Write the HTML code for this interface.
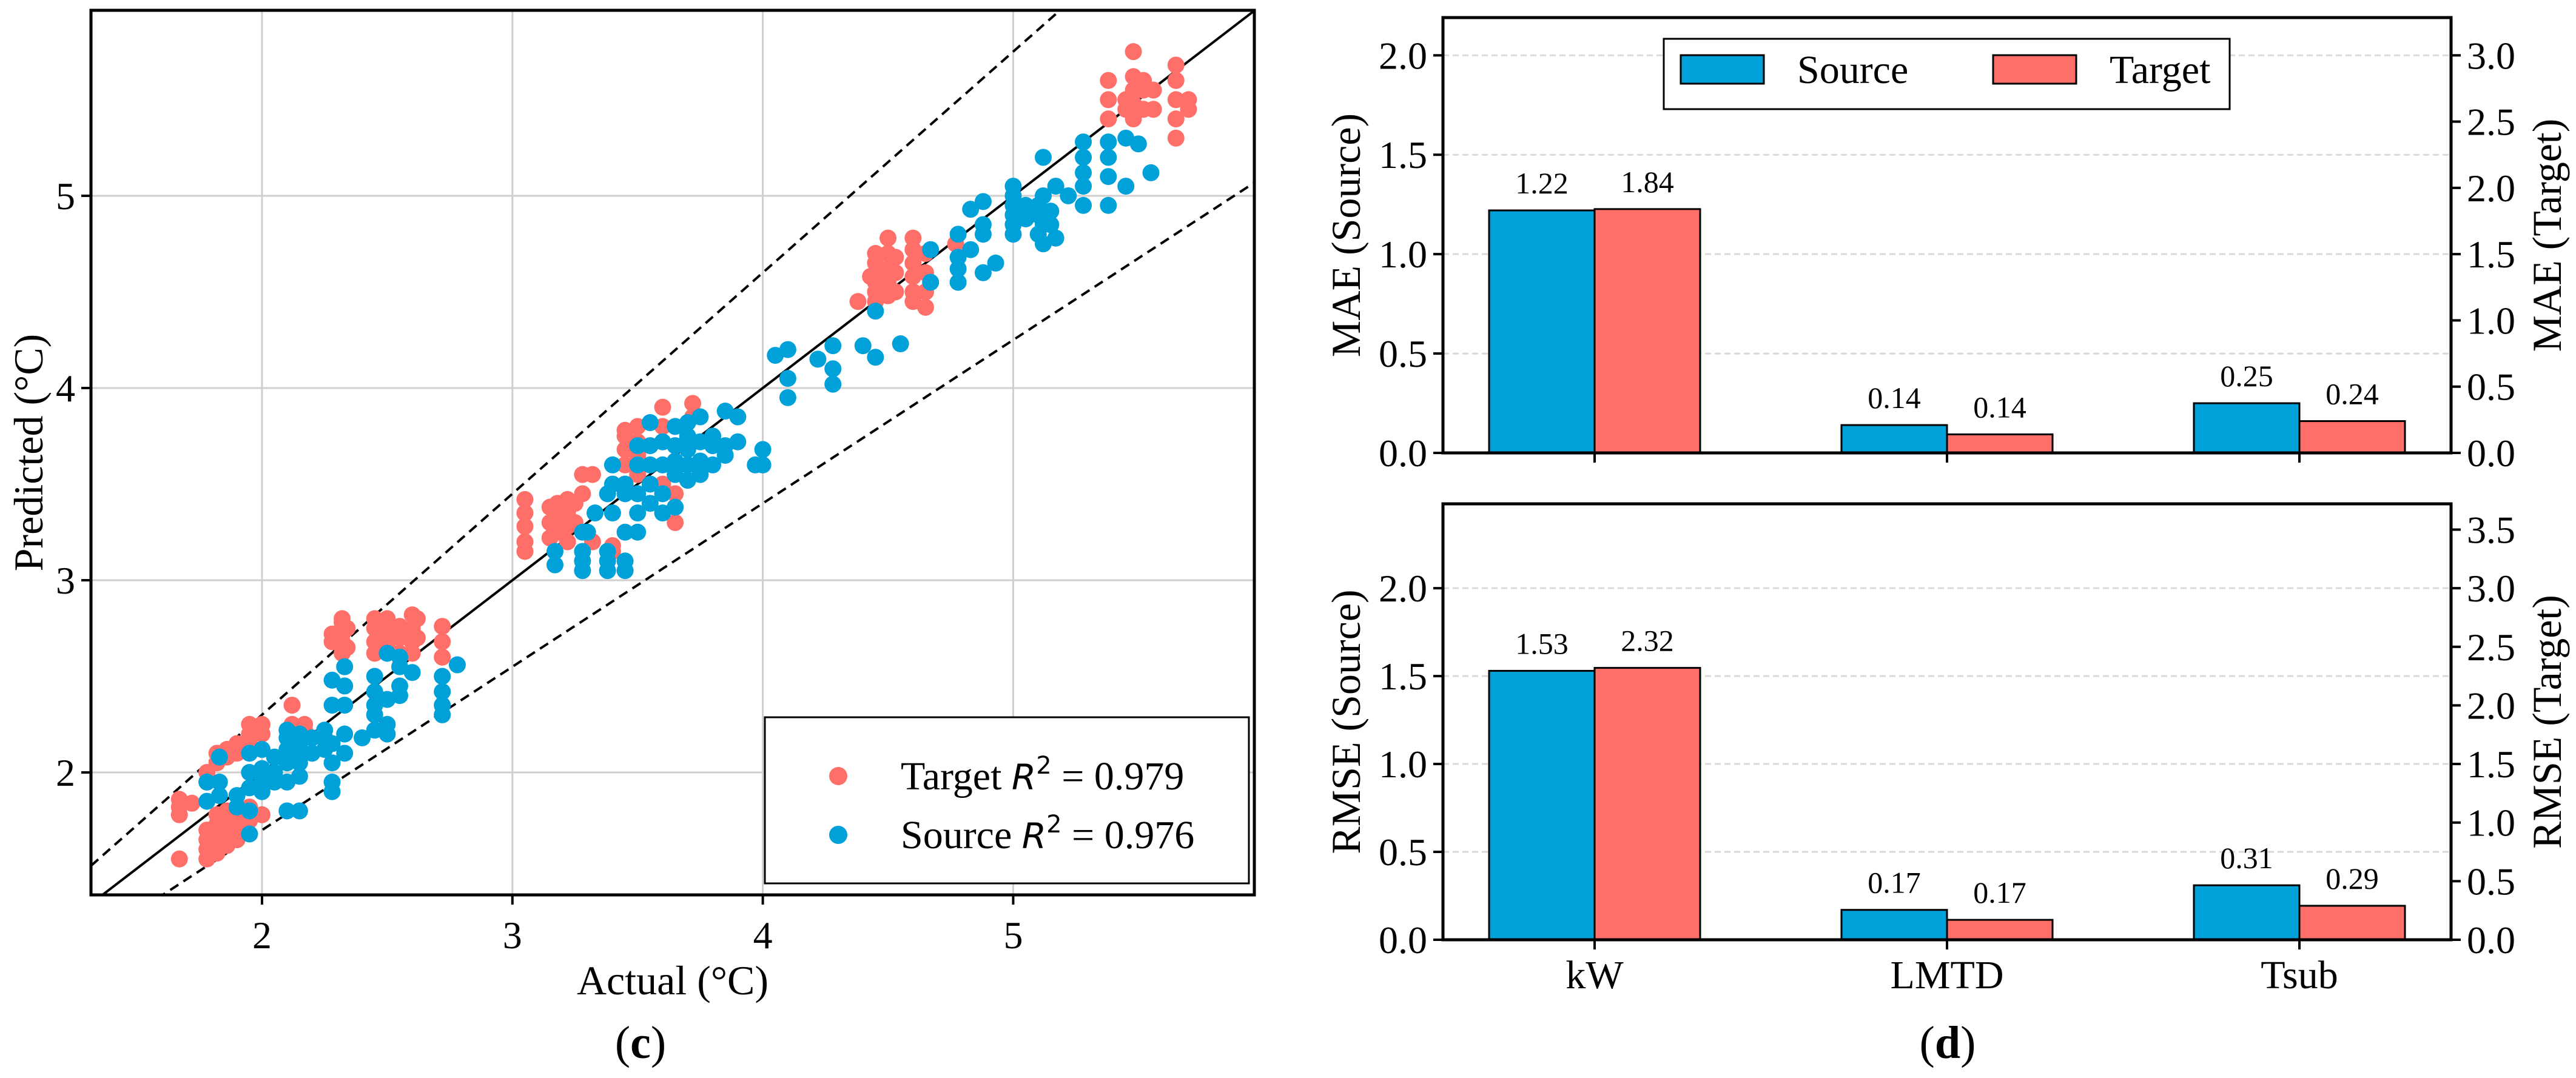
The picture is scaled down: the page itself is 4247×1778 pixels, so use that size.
<!DOCTYPE html>
<html><head><meta charset="utf-8"><style>
html,body{margin:0;padding:0;background:#fff}
svg{display:block}
text{font-family:"Liberation Serif",serif;fill:#000}
</style></head><body>
<svg id="fig" width="4247" height="1778" viewBox="0 0 4247 1778" xmlns="http://www.w3.org/2000/svg">
<rect width="4247" height="1778" fill="#fff"/>
<g id="panelC"></g>
<g id="panelD"></g>
</svg>
<script>
// ---------- Data: scatter (c) ----------
const targetX = [1.67,1.67,1.67,1.67,1.72,1.78,1.78,1.78,1.78,1.78,1.78,1.82,1.82,1.82,1.82,1.82,1.82,1.82,1.86,1.86,1.86,1.86,1.86,1.86,1.9,1.9,1.9,1.9,1.9,1.95,1.95,1.95,1.95,1.95,1.95,2.0,2.0,2.0,2.12,2.12,2.12,2.17,2.17,2.28,2.28,2.32,2.32,2.32,2.32,2.32,2.34,2.34,2.45,2.45,2.45,2.45,2.5,2.5,2.5,2.5,2.55,2.55,2.55,2.6,2.6,2.6,2.6,2.62,2.62,2.72,2.72,2.72,3.05,3.05,3.05,3.05,3.05,3.15,3.15,3.15,3.18,3.18,3.18,3.22,3.22,3.22,3.22,3.25,3.25,3.28,3.28,3.32,3.32,3.4,3.4,3.45,3.45,3.45,3.45,3.45,3.5,3.5,3.5,3.5,3.6,3.6,3.6,3.6,3.65,3.65,3.72,3.72,4.43,4.38,4.45,4.45,4.45,4.45,4.45,4.45,4.5,4.5,4.5,4.5,4.5,4.53,4.53,4.53,4.6,4.6,4.6,4.6,4.6,4.6,4.65,4.65,4.65,4.65,4.77,5.38,5.38,5.38,5.45,5.45,5.48,5.48,5.48,5.48,5.48,5.52,5.52,5.52,5.56,5.56,5.65,5.65,5.65,5.65,5.65,5.7,5.7];
const targetY = [1.78,1.82,1.86,1.55,1.84,1.55,1.6,1.65,1.7,1.95,2.0,1.58,1.63,1.68,1.73,1.78,2.05,2.1,1.62,1.68,1.74,1.8,2.08,2.12,1.65,1.72,1.78,2.1,2.15,1.68,1.75,1.82,2.15,2.2,2.25,1.78,2.2,2.25,2.25,2.35,2.2,2.22,2.25,2.68,2.72,2.62,2.68,2.72,2.78,2.8,2.65,2.75,2.62,2.68,2.75,2.8,2.65,2.72,2.78,2.8,2.62,2.7,2.76,2.62,2.68,2.75,2.82,2.7,2.8,2.6,2.68,2.76,3.15,3.2,3.28,3.35,3.42,3.22,3.3,3.38,3.25,3.32,3.4,3.2,3.28,3.35,3.42,3.3,3.4,3.45,3.55,3.55,3.2,3.15,3.18,3.5,3.6,3.68,3.75,3.78,3.55,3.65,3.72,3.8,3.72,3.8,3.9,3.5,3.3,3.45,3.85,3.92,4.58,4.45,4.45,4.5,4.55,4.6,4.65,4.7,4.48,4.55,4.62,4.7,4.78,4.5,4.6,4.68,4.45,4.5,4.58,4.65,4.72,4.78,4.42,4.5,4.6,4.7,4.75,5.4,5.5,5.6,5.45,5.5,5.4,5.48,5.55,5.62,5.75,5.45,5.55,5.6,5.45,5.55,5.3,5.4,5.5,5.6,5.68,5.45,5.5];
const sourceX = [1.78,1.78,1.83,1.83,1.83,1.9,1.9,1.95,1.95,1.95,1.95,1.95,2.0,2.0,2.0,2.0,2.05,2.05,2.05,2.1,2.1,2.1,2.1,2.1,2.1,2.15,2.15,2.15,2.15,2.15,2.15,2.2,2.2,2.25,2.25,2.25,2.28,2.28,2.28,2.28,2.28,2.28,2.33,2.33,2.33,2.33,2.33,2.4,2.45,2.45,2.45,2.45,2.45,2.5,2.5,2.5,2.5,2.55,2.55,2.55,2.55,2.6,2.72,2.72,2.72,2.72,2.78,3.17,3.17,3.28,3.28,3.28,3.28,3.3,3.33,3.38,3.38,3.38,3.38,3.4,3.4,3.4,3.45,3.45,3.45,3.45,3.45,3.5,3.5,3.5,3.5,3.5,3.55,3.55,3.55,3.55,3.55,3.6,3.6,3.6,3.6,3.65,3.65,3.65,3.65,3.65,3.7,3.7,3.7,3.7,3.7,3.75,3.75,3.75,3.75,3.8,3.8,3.8,3.85,3.85,3.85,3.9,3.9,3.97,4.0,4.0,4.05,4.1,4.1,4.1,4.22,4.28,4.28,4.28,4.4,4.45,4.45,4.55,4.67,4.67,4.78,4.78,4.78,4.78,4.83,4.83,4.88,4.88,4.88,4.88,4.93,5.0,5.0,5.0,5.0,5.0,5.0,5.05,5.05,5.1,5.1,5.1,5.12,5.12,5.12,5.12,5.15,5.15,5.17,5.17,5.22,5.28,5.28,5.28,5.28,5.28,5.38,5.38,5.38,5.38,5.45,5.45,5.5,5.55];
const sourceY = [1.85,1.95,1.88,1.95,2.08,1.82,1.88,1.68,1.8,1.92,2.0,2.1,1.9,1.95,2.02,2.12,1.95,2.0,2.08,1.8,1.95,2.05,2.12,2.18,2.22,1.8,1.98,2.05,2.1,2.15,2.2,2.1,2.18,2.12,2.18,2.22,1.9,1.95,2.05,2.15,2.35,2.48,2.1,2.2,2.35,2.45,2.55,2.18,2.22,2.3,2.35,2.42,2.5,2.2,2.25,2.38,2.62,2.4,2.45,2.55,2.6,2.52,2.3,2.35,2.42,2.5,2.56,3.08,3.15,3.05,3.1,3.15,3.25,3.25,3.35,3.05,3.1,3.15,3.45,3.35,3.5,3.6,3.05,3.1,3.25,3.45,3.5,3.25,3.35,3.45,3.6,3.7,3.4,3.5,3.6,3.7,3.82,3.35,3.45,3.6,3.72,3.38,3.55,3.62,3.7,3.8,3.52,3.6,3.68,3.75,3.82,3.55,3.62,3.72,3.85,3.6,3.7,3.75,3.65,3.7,3.88,3.72,3.85,3.6,3.6,3.68,4.17,4.2,4.05,3.95,4.15,4.02,4.1,4.22,4.22,4.16,4.4,4.23,4.55,4.72,4.55,4.62,4.68,4.8,4.72,4.93,4.6,4.8,4.85,4.97,4.65,4.8,4.85,4.9,4.95,5.0,5.05,4.88,4.95,4.8,4.9,4.95,4.75,4.85,5.0,5.2,4.85,4.92,4.78,5.05,5.0,4.95,5.05,5.12,5.2,5.28,4.95,5.1,5.2,5.28,5.05,5.3,5.27,5.12];
const scatterTicks = [2,3,4,5];
const scatterTickLabels = ["2","3","4","5"];

// ---------- Data: bars (d) ----------
const categories = ["kW","LMTD","Tsub"];
const maeSource = [1.22,0.14,0.25];
const maeTarget = [1.84,0.14,0.24];
const maeSourceLabels = ["1.22","0.14","0.25"];
const maeTargetLabels = ["1.84","0.14","0.24"];
const rmseSource = [1.53,0.17,0.31];
const rmseTarget = [2.32,0.17,0.29];
const rmseSourceLabels = ["1.53","0.17","0.31"];
const rmseTargetLabels = ["2.32","0.17","0.29"];
const maeLeftTicks = [0,0.5,1.0,1.5,2.0];
const maeRightTicks = [0,0.5,1.0,1.5,2.0,2.5,3.0];
const rmseLeftTicks = [0,0.5,1.0,1.5,2.0];
const rmseRightTicks = [0,0.5,1.0,1.5,2.0,2.5,3.0,3.5];

const NS = "http://www.w3.org/2000/svg";
const BLUE = "#00A0D9", RED = "#FF6F69";
function mk(parent, tag, attrs, txt){
  const e = document.createElementNS(NS, tag);
  for (const k in attrs) e.setAttribute(k, attrs[k]);
  if (txt !== undefined) e.textContent = txt;
  parent.appendChild(e);
  return e;
}

// ---------- Panel C ----------
(function(){
  const g = document.getElementById('panelC');
  const L=150,R=2068,T=17,B=1476;
  const xmin=1.317,xmax=5.963,ymin=1.363,ymax=5.965;
  const sx = v => L + (v-xmin)/(xmax-xmin)*(R-L);
  const sy = v => B - (v-ymin)/(ymax-ymin)*(B-T);
  const clip = mk(g,'clipPath',{id:'clipC'});
  mk(clip,'rect',{x:L,y:T,width:R-L,height:B-T});
  scatterTicks.forEach((t,i)=>{
    let l = mk(g,'line',{x1:sx(t),x2:sx(t),y1:T,y2:B,stroke:'#cfcfcf','stroke-width':3});
    
    
    l = mk(g,'line',{x1:L,x2:R,y1:sy(t),y2:sy(t),stroke:'#cfcfcf','stroke-width':3});
    
    
  });
  const pts = mk(g,'g',{'clip-path':'url(#clipC)'});
  const lines = [[1,'none'],[1.15,'16,10'],[0.85,'16,10']];
  lines.forEach(([k,d],i)=>{
    const l = mk(pts,'line',{x1:sx(xmin),y1:sy(xmin*k),x2:sx(xmax),y2:sy(xmax*k),stroke:'#000','stroke-width':4,'stroke-dasharray':d});
    
    
  });
  targetX.forEach((x,i)=>{
    const c = mk(pts,'circle',{cx:sx(x),cy:sy(targetY[i]),r:14,fill:RED});
    
    
  });
  sourceX.forEach((x,i)=>{
    const c = mk(pts,'circle',{cx:sx(x),cy:sy(sourceY[i]),r:14,fill:BLUE});
    
    
  });
  mk(g,'rect',{x:L,y:T,width:R-L,height:B-T,fill:'none',stroke:'#000','stroke-width':5});
  scatterTicks.forEach((t,i)=>{
    mk(g,'line',{x1:sx(t),x2:sx(t),y1:B,y2:B+16,stroke:'#000','stroke-width':4});
    let tx = mk(g,'text',{x:sx(t),y:B+88,'font-size':64,'text-anchor':'middle'},scatterTickLabels[i]);
    
    
    mk(g,'line',{x1:L-16,x2:L,y1:sy(t),y2:sy(t),stroke:'#000','stroke-width':4});
    tx = mk(g,'text',{x:L-26,y:sy(t)+22,'font-size':64,'text-anchor':'end'},scatterTickLabels[i]);
    
    
  });
  let t = mk(g,'text',{x:(L+R)/2,y:1640,'font-size':68,'text-anchor':'middle'},'Actual (°C)');
   
  t = mk(g,'text',{x:0,y:0,'font-size':68,'text-anchor':'middle',transform:'translate(70,'+((T+B)/2)+') rotate(-90)'},'Predicted (°C)');
   
  // legend
  const lg = mk(g,'g',{});
   
  mk(lg,'rect',{x:1261,y:1183,width:798,height:274,fill:'#fff',stroke:'#000','stroke-width':3});
  mk(lg,'circle',{cx:1382,cy:1280,r:15,fill:RED});
  mk(lg,'circle',{cx:1382,cy:1377,r:15,fill:BLUE});
  let e = mk(lg,'text',{x:1485,y:1302,'font-size':66});
   
  e.innerHTML = 'Target  <tspan font-family="DejaVu Sans" font-style="italic" font-size="58">R</tspan><tspan font-family="DejaVu Sans" font-size="40" dy="-26">2</tspan><tspan dy="26"> = 0.979</tspan>';
  e = mk(lg,'text',{x:1485,y:1399,'font-size':66});
   
  e.innerHTML = 'Source  <tspan font-family="DejaVu Sans" font-style="italic" font-size="58">R</tspan><tspan font-family="DejaVu Sans" font-size="40" dy="-26">2</tspan><tspan dy="26"> = 0.976</tspan>';
  t = mk(g,'text',{x:1056,y:1745,'font-size':76,'text-anchor':'middle'});
  t.innerHTML = '(<tspan font-weight="bold">c</tspan>)';
   
})();

// ---------- Panel D ----------
(function(){
  const g = document.getElementById('panelD');
  const L=2379,R=4041;
  const cx0=2629, step=581, bw=174;
  const cx = i => cx0 + i*step;
  function panel(T,B,lmax,rmax,src,tgt,srcLab,tgtLab,lt,rt,lname,rname,key,showX){
    const syL = v => B - v/lmax*(B-T);
    const syR = v => B - v/rmax*(B-T);
    lt.forEach(v=>{
      if(v>0){
        const l = mk(g,'line',{x1:L,x2:R,y1:syL(v),y2:syL(v),stroke:'#d9d9d9','stroke-width':3,'stroke-dasharray':'10,6'});
        
        
      }
    });
    src.forEach((v,i)=>{
      const r = mk(g,'rect',{x:cx(i)-bw,y:syL(v),width:bw,height:B-syL(v),fill:BLUE,stroke:'#000','stroke-width':3});
      
      
      const t = mk(g,'text',{x:cx(i)-bw/2,y:syL(v)-28,'font-size':50,'text-anchor':'middle'},srcLab[i]);
      
      
    });
    tgt.forEach((v,i)=>{
      const r = mk(g,'rect',{x:cx(i),y:syR(v),width:bw,height:B-syR(v),fill:RED,stroke:'#000','stroke-width':3});
      
      
      const t = mk(g,'text',{x:cx(i)+bw/2,y:syR(v)-28,'font-size':50,'text-anchor':'middle'},tgtLab[i]);
      
      
    });
    mk(g,'rect',{x:L,y:T,width:R-L,height:B-T,fill:'none',stroke:'#000','stroke-width':5});
    lt.forEach(v=>{
      mk(g,'line',{x1:L-16,x2:L,y1:syL(v),y2:syL(v),stroke:'#000','stroke-width':4});
      const t = mk(g,'text',{x:L-26,y:syL(v)+22,'font-size':64,'text-anchor':'end'},v.toFixed(1));
      
      
    });
    rt.forEach(v=>{
      mk(g,'line',{x1:R,x2:R+16,y1:syR(v),y2:syR(v),stroke:'#000','stroke-width':4});
      const t = mk(g,'text',{x:R+26,y:syR(v)+22,'font-size':64,'text-anchor':'start'},v.toFixed(1));
      
      
    });
    categories.forEach((c,i)=>{
      mk(g,'line',{x1:cx(i),x2:cx(i),y1:B,y2:B+16,stroke:'#000','stroke-width':4});
      if(showX){
        const t = mk(g,'text',{x:cx(i),y:B+80,'font-size':66,'text-anchor':'middle'},c);
        
        
      }
    });
    let t = mk(g,'text',{x:0,y:0,'font-size':68,'text-anchor':'middle',transform:'translate(2242,'+((T+B)/2)+') rotate(-90)'},lname);
     
    t = mk(g,'text',{x:0,y:0,'font-size':68,'text-anchor':'middle',transform:'translate(4222,'+((T+B)/2)+') rotate(-90)'},rname);
     
  }
  panel(29,747,2.19,3.285,maeSource,maeTarget,maeSourceLabels,maeTargetLabels,maeLeftTicks,maeRightTicks,'MAE (Source)','MAE (Target)','mae',false);
  panel(831,1550,2.48,3.72,rmseSource,rmseTarget,rmseSourceLabels,rmseTargetLabels,rmseLeftTicks,rmseRightTicks,'RMSE (Source)','RMSE (Target)','rmse',true);
  const lg = mk(g,'g',{});
   
  mk(lg,'rect',{x:2743,y:64,width:933,height:116,fill:'#fff',stroke:'#000','stroke-width':3});
  mk(lg,'rect',{x:2771,y:91,width:137,height:47,fill:BLUE,stroke:'#000','stroke-width':3});
  let e = mk(lg,'text',{x:2963,y:137,'font-size':66},'Source');
   
  mk(lg,'rect',{x:3286,y:91,width:137,height:47,fill:RED,stroke:'#000','stroke-width':3});
  e = mk(lg,'text',{x:3478,y:137,'font-size':66},'Target');
   
  const t = mk(g,'text',{x:3211,y:1745,'font-size':76,'text-anchor':'middle'});
  t.innerHTML = '(<tspan font-weight="bold">d</tspan>)';
   
})();
</script>
</body></html>
